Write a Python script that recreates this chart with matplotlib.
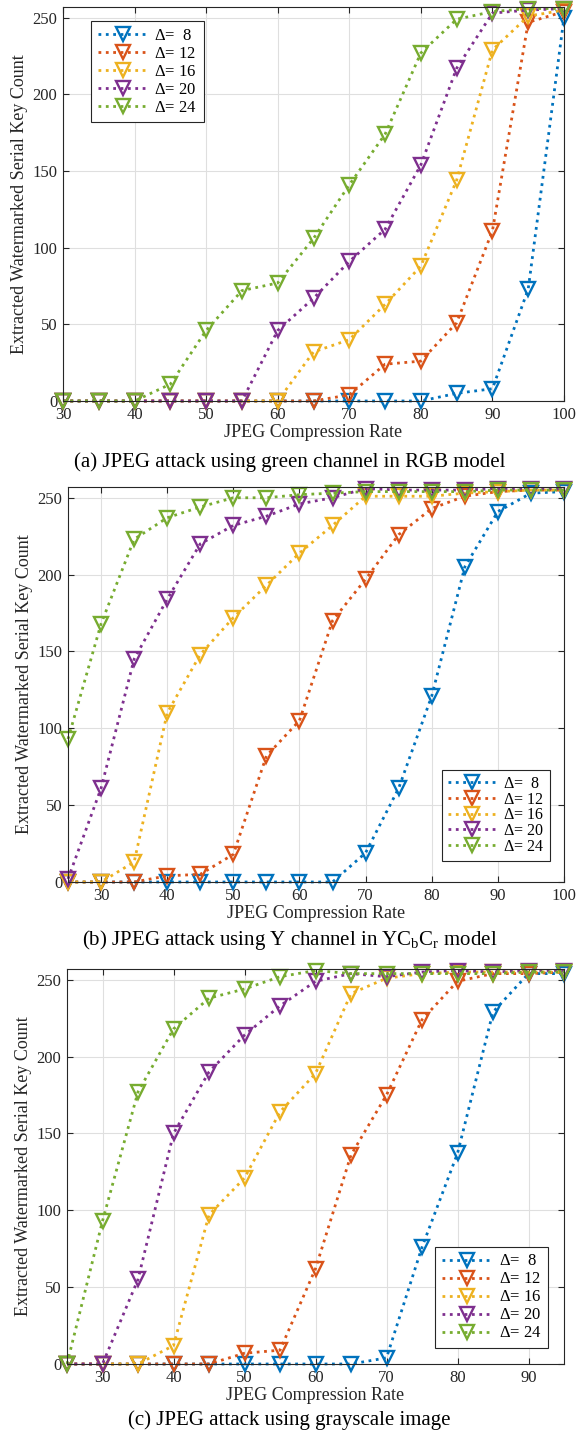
import numpy as np
import matplotlib
matplotlib.use("Agg")
import matplotlib.pyplot as plt

plt.rcParams['font.family'] = ['Liberation Serif', 'DejaVu Serif']
plt.rcParams['mathtext.fontset'] = 'custom'
plt.rcParams['mathtext.rm'] = 'Liberation Serif'

deltas = ['$\\Delta$=  8', '$\\Delta$= 12', '$\\Delta$= 16', '$\\Delta$= 20', '$\\Delta$= 24']
colors = ['#0072BD', '#D95319', '#EDB120', '#7E2F8E', '#77AC30']

# (a) green channel, RGB
rate_a = [30, 35, 40, 45, 50, 55, 60, 65, 70, 75, 80, 85, 90, 95, 100]
a_d8 = [0, 0, 0, 0, 0, 0, 0, 0, 0, 0, 0, 5, 8, 73, 250]
a_d12 = [0, 0, 0, 0, 0, 0, 0, 0, 4, 24, 26, 51, 111, 247, 254]
a_d16 = [0, 0, 0, 0, 0, 0, 0, 32, 40, 63, 88, 144, 229, 251, 255]
a_d20 = [0, 0, 0, 0, 0, 0, 46, 67, 91, 112, 154, 217, 253, 255, 256]
a_d24 = [0, 0, 0, 11, 46, 72, 77, 106, 141, 174, 227, 249, 254, 256, 256]

# (b) Y channel, YCbCr
rate_b = [25, 30, 35, 40, 45, 50, 55, 60, 65, 70, 75, 80, 85, 90, 95, 100]
b_d8 = [0, 0, 0, 0, 0, 0, 0, 0, 0, 19, 61, 121, 205, 241, 253, 254]
b_d12 = [0, 0, 0, 4, 5, 18, 82, 105, 170, 197, 226, 243, 251, 254, 255, 255]
b_d16 = [0, 0, 13, 110, 148, 172, 193, 214, 232, 251, 251, 251, 253, 254, 255, 255]
b_d20 = [2, 61, 145, 184, 220, 232, 238, 246, 250, 256, 255, 255, 255, 256, 256, 256]
b_d24 = [93, 168, 223, 237, 244, 250, 250, 252, 253, 254, 254, 254, 254, 255, 255, 255]

# (c) grayscale
rate_c = [25, 30, 35, 40, 45, 50, 55, 60, 65, 70, 75, 80, 85, 90, 95]
c_d8 = [0, 0, 0, 0, 0, 0, 0, 0, 0, 4, 76, 137, 229, 254, 254]
c_d12 = [0, 0, 0, 0, 0, 7, 9, 62, 136, 175, 224, 249, 254, 254, 255]
c_d16 = [0, 0, 0, 12, 97, 121, 164, 189, 241, 251, 254, 255, 255, 255, 255]
c_d20 = [0, 0, 55, 150, 190, 214, 233, 249, 254, 252, 255, 256, 255, 256, 256]
c_d24 = [0, 93, 177, 218, 238, 244, 252, 256, 254, 254, 254, 254, 254, 255, 255]

W, H = 579, 1435
fig = plt.figure(figsize=(W / 100, H / 100), dpi=100)


def px_rect(l, r, t, b):
    return [l / W, 1 - b / H, (r - l) / W, (b - t) / H]


def panel(rect, x, series, xlim, xticks, leg_anchor, leg_loc, leg_fs, leg_sp):
    ax = fig.add_axes(px_rect(*rect))
    for y, c, lab in zip(series, colors, deltas):
        ax.plot(x, y, linestyle=':', color=c, linewidth=2.0, marker='v',
                markersize=9.5, markerfacecolor='none', markeredgewidth=1.7,
                label=lab, clip_on=False)
    ax.set_xlim(*xlim)
    ax.set_ylim(0, 257)
    ax.set_xticks(xticks)
    ax.set_yticks([0, 50, 100, 150, 200, 250])
    ax.grid(True, color='#dfdfdf', linewidth=0.8)
    ax.set_axisbelow(True)
    ax.tick_params(direction='in', top=True, right=True, length=4,
                   labelsize=12, colors='#262626', pad=4)
    for s in ax.spines.values():
        s.set_color('#262626')
        s.set_linewidth(0.8)
    ax.set_xlabel('JPEG Compression Rate', fontsize=13, color='#262626', labelpad=1)
    ax.set_ylabel('Extracted Watermarked Serial Key Count', fontsize=13,
                  color='#262626', labelpad=3)
    leg = ax.legend(loc=leg_loc, bbox_to_anchor=leg_anchor,
                    bbox_transform=fig.transFigure, fontsize=leg_fs,
                    fancybox=False, framealpha=1, edgecolor='#262626',
                    handlelength=3.0, labelspacing=leg_sp, borderpad=0.4,
                    handletextpad=0.4, borderaxespad=0)
    leg.get_frame().set_linewidth(0.8)
    return ax


panel((63, 564, 7, 401), rate_a, [a_d8, a_d12, a_d16, a_d20, a_d24],
      (30, 100), range(30, 101, 10), (91 / W, 1 - 21 / H), 'upper left', 12, 0.12)
panel((68, 564, 487, 882), rate_b, [b_d8, b_d12, b_d16, b_d20, b_d24],
      (25, 100), range(30, 101, 10), (550 / W, 1 - 861 / H), 'lower right', 11.5, -0.02)
panel((67, 564, 969, 1364), rate_c, [c_d8, c_d12, c_d16, c_d20, c_d24],
      (25, 95), range(30, 91, 10), (548 / W, 1 - 1348 / H), 'lower right', 12, 0.12)

fig.text(0.5, 1 - 462 / H, '(a) JPEG attack using green channel in RGB model',
         ha='center', va='center', fontsize=15)
fig.text(0.5, 1 - 940 / H,
         '(b) JPEG attack using Y channel in YC$_\\mathrm{b}$C$_\\mathrm{r}$ model',
         ha='center', va='center', fontsize=15)
fig.text(0.5, 1 - 1420 / H, '(c) JPEG attack using grayscale image',
         ha='center', va='center', fontsize=15)

fig.savefig('out.png', dpi=100)
